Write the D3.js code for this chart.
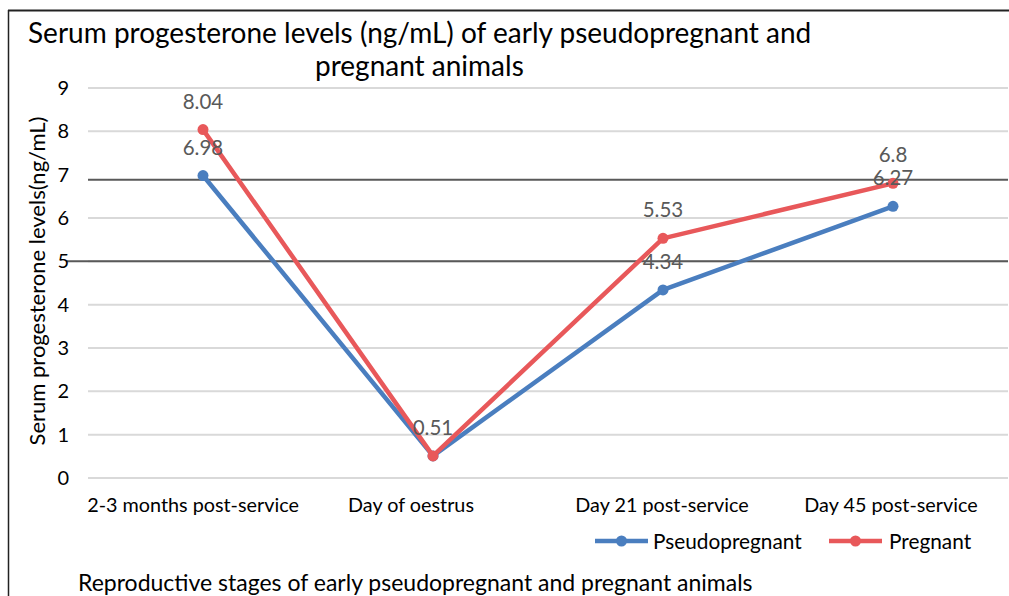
<!DOCTYPE html>
<html><head><meta charset="utf-8">
<script src="https://cdn.jsdelivr.net/npm/d3@7"></script>
<style>body{margin:0;background:#fff}svg{display:block}text{font-family:Lato,"Open Sans",sans-serif}</style>
</head><body>
<script>
const categories = ["2-3 months post-service","Day of oestrus","Day 21 post-service","Day 45 post-service"];
const pseudoValues = [6.98, 0.51, 4.34, 6.27];
const pregnantValues = [8.04, 0.51, 5.53, 6.8];
const pseudoShowLabel = [true, false, true, true];
const pregnantShowLabel = [true, true, true, true];
const yTicks = [0,1,2,3,4,5,6,7,8,9];
const refLines = [6.88, 5];
const seriesNames = ["Pseudopregnant","Pregnant"];
const titleLines = ["Serum progesterone levels (ng/mL) of early pseudopregnant and","pregnant animals"];
const yTitle = "Serum progesterone levels(ng/mL)";
const xTitle = "Reproductive stages of early pseudopregnant and pregnant animals";

(function(){
const W = 1009, H = 596;
const colors = ["#4A7EBF", "#E8585A"];
const svg = d3.select("body").append("svg").attr("width", W).attr("height", H);

const pL = 88, pR = 1008, pT = 88, pB = 478;
const x = d3.scaleBand().domain(categories).range([pL, pR]);
const y = d3.scaleLinear().domain([0, 9]).range([pB, pT]);

// frame
svg.append("line").attr("x1", 8).attr("x2", W).attr("y1", 10.5).attr("y2", 10.5).attr("stroke", "#222").attr("stroke-width", 2);
svg.append("line").attr("x1", 8.5).attr("x2", 8.5).attr("y1", 10).attr("y2", H).attr("stroke", "#222").attr("stroke-width", 1.5);

// title
svg.append("text").attr("x", 28).attr("y", 43).attr("font-size", 28).attr("fill", "#000").text(titleLines[0]);
svg.append("text").attr("x", 315).attr("y", 76).attr("font-size", 28).attr("fill", "#000").text(titleLines[1]);

// gridlines
svg.append("g").selectAll("line").data(yTicks.filter(d => d !== 7)).join("line")
  .attr("x1", pL).attr("x2", pR)
  .attr("y1", d => y(d)).attr("y2", d => y(d))
  .attr("stroke", "#d9d9d9").attr("stroke-width", 2);

// reference lines
svg.append("g").selectAll("line").data(refLines).join("line")
  .attr("x1", (d, i) => i === 0 ? pL : 67).attr("x2", pR)
  .attr("y1", d => y(d)).attr("y2", d => y(d))
  .attr("stroke", "#595959").attr("stroke-width", 2);

// y axis tick labels
const yAxis = d3.axisLeft(y).tickValues(yTicks).tickSize(0).tickPadding(0).tickFormat(d3.format("d"));
const yg = svg.append("g").attr("transform", `translate(${69},0)`).call(yAxis);
yg.select(".domain").remove();
yg.selectAll("text").attr("font-size", 20).attr("fill", "#000").attr("font-family", "Lato");

// x axis tick labels
const xOffsets = [-10, -22, -1, -2];
const xAxis = d3.axisBottom(x).tickSize(0).tickPadding(0);
const xg = svg.append("g").attr("transform", `translate(0,${498})`).call(xAxis);
xg.select(".domain").remove();
xg.selectAll("text").attr("font-size", 19.8).attr("fill", "#000").attr("font-family", "Lato")
  .attr("dx", (d, i) => xOffsets[i]);

// axis titles
svg.append("text").attr("transform", `translate(45,${281}) rotate(-90)`).attr("text-anchor", "middle")
  .attr("font-size", 22).attr("fill", "#000").text(yTitle);
svg.append("text").attr("x", 78).attr("y", 591).attr("font-size", 23).attr("fill", "#000").text(xTitle);

// series
const series = [
  {name: seriesNames[0], values: pseudoValues, show: pseudoShowLabel, color: colors[0]},
  {name: seriesNames[1], values: pregnantValues, show: pregnantShowLabel, color: colors[1]}
];
const cx = c => x(c) + x.bandwidth() / 2;
const line = d3.line().x((d, i) => cx(categories[i])).y(d => y(d));
series.forEach(s => {
  svg.append("path").attr("d", line(s.values)).attr("fill", "none").attr("stroke", s.color)
    .attr("stroke-width", 4.5).attr("stroke-linejoin", "round");
  svg.append("g").selectAll("circle").data(s.values).join("circle")
    .attr("cx", (d, i) => cx(categories[i])).attr("cy", d => y(d)).attr("r", 5.5).attr("fill", s.color);
});
series.forEach(s => {
  svg.append("g").selectAll("text").data(s.values.map((v, i) => ({v, i})).filter(d => s.show[d.i])).join("text")
    .attr("x", d => cx(categories[d.i])).attr("y", d => y(d.v) - 21)
    .attr("text-anchor", "middle").attr("font-size", 20.5).attr("fill", "#595959")
    .text(d => d3.format("")(d.v));
});

// legend
const legendX = [595, 829];
series.forEach((s, i) => {
  const g = svg.append("g").attr("transform", `translate(${legendX[i]},541)`);
  g.append("line").attr("x1", 0).attr("x2", 53).attr("stroke", s.color).attr("stroke-width", 4.5);
  g.append("circle").attr("cx", 26.5).attr("r", 5.5).attr("fill", s.color);
  g.append("text").attr("x", i === 0 ? 58 : 60).attr("y", 7.5).attr("font-size", 20.8).attr("fill", "#000").text(s.name);
});
})();
</script>
</body></html>
